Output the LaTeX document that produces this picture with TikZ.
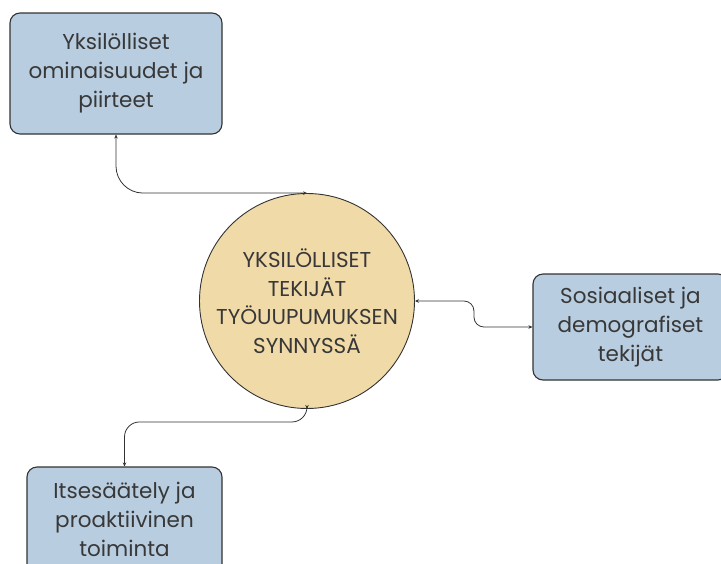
\documentclass[tikz,border=0pt]{standalone}
\usepackage{fontspec}
\setmainfont{Poppins}
\usetikzlibrary{arrows.meta}
\definecolor{boxfill}{RGB}{184,205,224}
\definecolor{circfill}{RGB}{240,218,168}
\definecolor{edge}{RGB}{51,51,51}
\definecolor{txt}{RGB}{56,56,56}
\begin{document}
\begin{tikzpicture}[x=1pt,y=-1pt,
  factor/.style={draw=edge, line width=1.1pt, fill=boxfill, rounded corners=10pt,
    inner sep=0pt, align=center, text=txt,
    font=\fontsize{21.5}{29}\selectfont},
  hub/.style={circle, draw=edge, line width=0.9pt, fill=circfill, minimum size=215pt,
    inner sep=0pt, align=center, text=txt,
    font=\fontsize{21.5}{28.5}\selectfont},
  conn/.style={draw=edge, line width=0.8pt, {Stealth[length=4pt,width=3.5pt]}-{Stealth[length=4pt,width=3.5pt]}}]
\useasboundingbox (0,0) rectangle (721,563);
\begin{scope}
\clip (0,0) rectangle (721,563);
\node[factor, minimum width=212pt, minimum height=121pt] (top) at (116,73.5)
  {Yksilölliset\\ominaisuudet ja\\piirteet};
\node[factor, minimum width=195pt, minimum height=106pt] (right) at (630.5,327)
  {Sosiaaliset ja\\demografiset\\tekijät};
\node[factor, minimum width=195pt, minimum height=110pt] (bot) at (124.5,522)
  {};
\node[text=txt, align=center, font=\fontsize{21.5}{29}\selectfont] (bottxt) at (124.5,519)
  {Itsesäätely ja\\proaktiivinen\\toiminta};
\node[hub] (c) at (307,301)
  {YKSILÖLLISET\\TEKIJÄT\\TYÖUUPUMUKSEN\\SYNNYSSÄ};
\end{scope}
\draw[conn, rounded corners=27pt] (top.south) |- (c.north);
\draw[conn, rounded corners=10pt] (c.east) -- ++(59,0) |- (right.west);
\draw[conn, rounded corners=15pt] (c.south) -- ++(0,13) -| (bot.north);
\end{tikzpicture}
\end{document}
